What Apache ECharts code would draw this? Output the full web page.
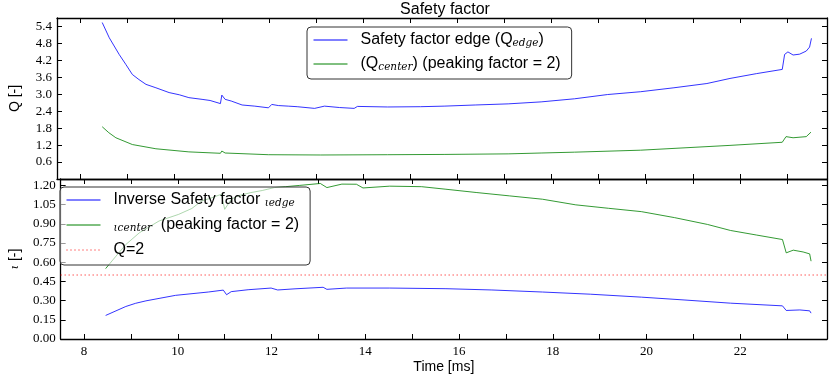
<!DOCTYPE html>
<html>
<head>
<meta charset="utf-8">
<script src="https://cdn.jsdelivr.net/npm/echarts@6/dist/echarts.min.js"></script>
<style>
  html, body { margin: 0; padding: 0; background: #fff; }
  #chart { width: 829px; height: 377px; }
</style>
</head>
<body>
<div id="chart"></div>
<script>
// top panel: safety factor Q
const qEdgeTime = [8.46, 8.61, 8.82, 8.96, 9.10, 9.24, 9.39, 9.60, 9.88, 10.10, 10.30, 10.58, 10.75, 10.97, 11.00, 11.07, 11.20, 11.43, 11.70, 11.99, 12.06, 12.20, 12.41, 12.60, 12.97, 13.18, 13.50, 13.81, 13.88, 14.52, 15.22, 15.72, 16.38, 17.08, 17.78, 18.49, 19.19, 19.89, 20.60, 21.30, 21.79, 22.35, 22.90, 22.95, 23.02, 23.13, 23.27, 23.41, 23.48, 23.51, 23.52];
const qEdge = [5.54, 5.00, 4.41, 4.06, 3.70, 3.52, 3.35, 3.23, 3.06, 2.98, 2.88, 2.82, 2.78, 2.67, 2.97, 2.82, 2.76, 2.62, 2.58, 2.52, 2.64, 2.60, 2.58, 2.56, 2.50, 2.58, 2.53, 2.50, 2.57, 2.55, 2.56, 2.58, 2.62, 2.66, 2.73, 2.84, 2.99, 3.09, 3.23, 3.38, 3.56, 3.73, 3.88, 4.41, 4.50, 4.39, 4.42, 4.53, 4.67, 4.60, 4.98];

const qCenterTime = [8.46, 8.60, 8.75, 9.10, 9.60, 10.30, 10.97, 11.00, 11.07, 11.99, 13.10, 14.52, 15.72, 17.08, 17.78, 18.49, 19.89, 21.79, 22.90, 22.98, 23.13, 23.41, 23.51];
const qCenter = [1.85, 1.64, 1.46, 1.22, 1.07, 0.96, 0.91, 0.99, 0.92, 0.86, 0.85, 0.86, 0.87, 0.89, 0.92, 0.95, 1.02, 1.19, 1.30, 1.50, 1.46, 1.50, 1.66];

// bottom panel: inverse safety factor iota
const iEdgeTime = [8.46, 8.89, 9.10, 9.32, 9.95, 10.65, 10.97, 11.04, 11.14, 11.50, 11.99, 12.13, 12.50, 13.10, 13.18, 13.60, 14.52, 15.72, 16.70, 17.78, 18.80, 19.89, 20.80, 21.79, 22.90, 22.98, 23.27, 23.48, 23.51];
const iEdge = [0.184, 0.254, 0.279, 0.298, 0.341, 0.367, 0.382, 0.346, 0.370, 0.385, 0.398, 0.383, 0.392, 0.404, 0.388, 0.398, 0.398, 0.393, 0.383, 0.367, 0.350, 0.327, 0.305, 0.280, 0.259, 0.223, 0.227, 0.220, 0.202];

const iCenterTime = [8.46, 8.68, 8.89, 9.18, 9.60, 10.02, 10.30, 10.51, 10.70, 10.93, 11.00, 11.14, 11.30, 11.56, 11.80, 12.06, 12.30, 12.60, 13.04, 13.18, 13.50, 13.81, 13.95, 14.52, 15.20, 15.72, 16.38, 17.08, 17.78, 18.49, 19.19, 19.89, 20.60, 21.30, 21.79, 22.35, 22.90, 22.98, 23.13, 23.34, 23.48, 23.51];
const iCenter = [0.550, 0.647, 0.738, 0.830, 0.922, 0.974, 1.02, 1.079, 1.10, 1.131, 1.013, 1.092, 1.12, 1.144, 1.16, 1.183, 1.19, 1.20, 1.215, 1.183, 1.21, 1.209, 1.18, 1.194, 1.19, 1.170, 1.144, 1.118, 1.092, 1.048, 1.021, 0.995, 0.948, 0.895, 0.848, 0.812, 0.777, 0.673, 0.694, 0.680, 0.665, 0.608];

// Q=2 reference (iota = 0.5)
const qTwoTime = [7.5, 23.85];
const qTwo = [0.5, 0.5];

// ticks
const timeTicks = [8, 9, 10, 11, 12, 13, 14, 15, 16, 17, 18, 19, 20, 21, 22, 23];
const timeLabels = [8, 10, 12, 14, 16, 18, 20, 22];
const qTicks = [0.6, 1.2, 1.8, 2.4, 3.0, 3.6, 4.2, 4.8, 5.4];
const iotaTicks = [0, 0.15, 0.30, 0.45, 0.60, 0.75, 0.90, 1.05, 1.20];

const X_MIN = 7.5, X_MAX = 23.85;
const SERIF = 'Liberation Serif';
const SANS = 'Liberation Sans';

const legendNames = {
  qEdge: 'Safety factor edge (Q{s|edge})',
  qCenter: '(Q{s|center}) (peaking factor = 2)',
  iEdge: 'Inverse Safety factor {s|ι}{s|edge}',
  iCenter: '{s|ι}{s|center}  (peaking factor = 2)',
  qTwo: 'Q=2'
};

function zip(xs, ys) {
  return xs.map((x, i) => [x, ys[i]]);
}

function frameAxis(grid, pos, isX, extra) {
  let ax = {
    type: 'value',
    gridIndex: grid,
    position: pos,
    axisLine: { show: true, onZero: false, lineStyle: { color: '#000', width: 1.3 } },
    axisTick: { show: true, inside: true, length: 5, lineStyle: { color: '#000', width: 1 } },
    axisLabel: { show: false },
    splitLine: { show: false }
  };
  if (isX) {
    ax.min = X_MIN;
    ax.max = X_MAX;
    ax.axisTick.customValues = timeTicks;
  }
  return Object.assign(ax, extra || {});
}

const chart = echarts.init(document.getElementById('chart'), null, { renderer: 'canvas' });

const legendText = {
  fontFamily: SANS,
  fontSize: 16,
  color: '#000',
  lineHeight: 18,
  padding: [0, 0, 0, 8],
  rich: {
    s: { fontFamily: 'DejaVu Serif', fontStyle: 'italic', fontSize: 10.5, color: '#000', verticalAlign: 'bottom', lineHeight: 18 }
  }
};

function legendBox(names, left, top, gap) {
  return {
    data: names,
    orient: 'vertical',
    left: left, top: top,
    padding: [4, 11, 6, 6],
    itemGap: gap,
    itemWidth: 34, itemHeight: 16,
    itemStyle: { opacity: 0 },
    lineStyle: { width: 1 },
    backgroundColor: 'rgba(255,255,255,0.6)',
    borderColor: '#333', borderWidth: 1, borderRadius: 4,
    formatter: name => legendNames[name],
    textStyle: legendText
  };
}

let option = {
  animation: false,
  backgroundColor: '#fff',
  title: {
    text: 'Safety factor',
    left: 440,
    textAlign: 'center',
    top: -3,
    textStyle: { fontFamily: SANS, fontSize: 16, fontWeight: 'normal', color: '#000' }
  },
  grid: [
    { left: 52, right: 2, top: 18, height: 161 },
    { left: 52, right: 2, top: 179, height: 160 }
  ],
  legend: [
    legendBox(['qEdge', 'qCenter'], 307, 27, 6),
    legendBox(['iEdge', 'iCenter', 'qTwo'], 60, 187, 7)
  ],
  xAxis: [
    frameAxis(0, 'bottom', true),
    frameAxis(0, 'top', true),
    frameAxis(1, 'bottom', true, {
      name: 'Time [ms]',
      nameLocation: 'middle',
      nameGap: 21,
      nameTextStyle: { fontFamily: SANS, fontSize: 14, color: '#000' },
      axisLabel: {
        show: true, customValues: timeLabels, margin: 6,
        fontFamily: SERIF, fontSize: 13, color: '#000'
      }
    }),
    frameAxis(1, 'top', true)
  ],
  yAxis: [
    frameAxis(0, 'left', false, {
      min: 0, max: 5.7,
      name: 'Q [-]',
      nameLocation: 'middle',
      nameGap: 35,
      nameTextStyle: { fontFamily: SANS, fontSize: 14, color: '#000' },
      axisTick: { show: true, inside: true, length: 5, customValues: qTicks, lineStyle: { color: '#000' } },
      axisLabel: {
        show: true, customValues: qTicks, margin: 5,
        fontFamily: SERIF, fontSize: 13, color: '#000',
        formatter: v => v.toFixed(1)
      }
    }),
    frameAxis(0, 'right', false, {
      min: 0, max: 5.7,
      axisTick: { show: true, inside: true, length: 5, customValues: qTicks, lineStyle: { color: '#000' } }
    }),
    frameAxis(1, 'left', false, {
      min: 0, max: 1.25,
      name: '{i|ι} [-]',
      nameLocation: 'middle',
      nameGap: 37,
      nameTextStyle: {
        fontFamily: SANS, fontSize: 14, color: '#000',
        rich: { i: { fontFamily: 'DejaVu Serif', fontStyle: 'italic', fontSize: 11, color: '#000' } }
      },
      axisTick: { show: true, inside: true, length: 5, customValues: iotaTicks, lineStyle: { color: '#000' } },
      axisLabel: {
        show: true, customValues: iotaTicks, margin: 5,
        fontFamily: SERIF, fontSize: 13, color: '#000',
        formatter: v => v.toFixed(2)
      }
    }),
    frameAxis(1, 'right', false, {
      min: 0, max: 1.25,
      axisTick: { show: true, inside: true, length: 5, customValues: iotaTicks, lineStyle: { color: '#000' } }
    })
  ],
  series: [
    {
      name: 'qEdge', type: 'line', xAxisIndex: 0, yAxisIndex: 0,
      data: zip(qEdgeTime, qEdge), showSymbol: false, symbol: 'none',
      lineStyle: { color: '#0000ff', width: 0.8 }, itemStyle: { color: '#0000ff' }
    },
    {
      name: 'qCenter', type: 'line', xAxisIndex: 0, yAxisIndex: 0,
      data: zip(qCenterTime, qCenter), showSymbol: false, symbol: 'none',
      lineStyle: { color: '#008000', width: 0.8 }, itemStyle: { color: '#008000' }
    },
    {
      name: 'iEdge', type: 'line', xAxisIndex: 2, yAxisIndex: 2,
      data: zip(iEdgeTime, iEdge), showSymbol: false, symbol: 'none',
      lineStyle: { color: '#0000ff', width: 0.8 }, itemStyle: { color: '#0000ff' }
    },
    {
      name: 'iCenter', type: 'line', xAxisIndex: 2, yAxisIndex: 2,
      data: zip(iCenterTime, iCenter), showSymbol: false, symbol: 'none',
      lineStyle: { color: '#008000', width: 0.8 }, itemStyle: { color: '#008000' }
    },
    {
      name: 'qTwo', type: 'line', xAxisIndex: 2, yAxisIndex: 2,
      data: zip(qTwoTime, qTwo), showSymbol: false, symbol: 'none',
      lineStyle: { color: '#ff0000', width: 1, type: [1, 3] }, itemStyle: { color: '#ff0000' }
    }
  ]
};

chart.setOption(option);
</script>
</body>
</html>
